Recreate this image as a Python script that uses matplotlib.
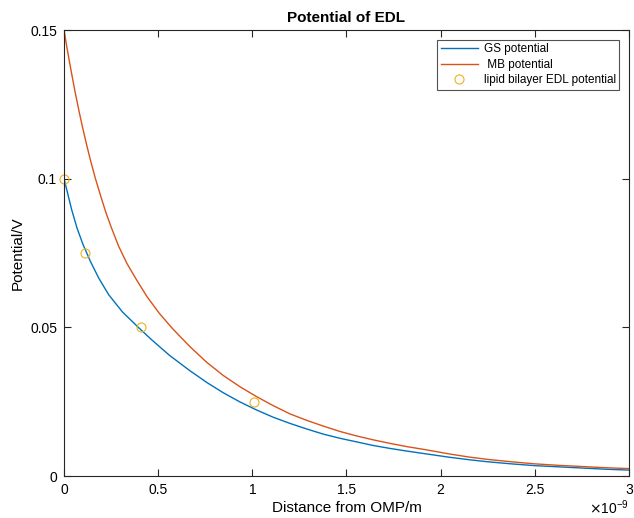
from matplotlib import pyplot as plt
from matplotlib.ticker import FuncFormatter
import numpy as np

# distance in nm (scaled to metres below), potential in V
gs_x = [0, 0.021, 0.04, 0.069, 0.10, 0.14, 0.185, 0.237, 0.31, 0.393, 0.464, 0.56,
        0.669, 0.76, 0.846, 0.935, 1.023, 1.11, 1.2, 1.29, 1.377, 1.465, 1.553, 1.64,
        1.73, 1.82, 1.907, 2.049, 2.15, 2.25, 2.375, 2.5, 2.625, 2.75, 2.875, 3.0]
gs_v = [0.100, 0.0946, 0.0897, 0.0834, 0.0780, 0.0722, 0.0665, 0.0610, 0.0552, 0.0501,
        0.0459, 0.0406, 0.0354, 0.0314, 0.0280, 0.0249, 0.0222, 0.0198, 0.0177, 0.0158,
        0.0141, 0.0127, 0.0115, 0.0103, 0.0093, 0.0084, 0.0076, 0.0063, 0.0055, 0.0048,
        0.0041, 0.0035, 0.0031, 0.0027, 0.0023, 0.0020]

mb_x = [0, 0.013, 0.028, 0.044, 0.060, 0.08, 0.099, 0.12, 0.140, 0.166, 0.193, 0.222,
        0.251, 0.29, 0.334, 0.385, 0.441, 0.505, 0.573, 0.62, 0.669, 0.757, 0.846, 0.935,
        1.023, 1.11, 1.2, 1.29, 1.377, 1.465, 1.553, 1.64, 1.73, 1.82, 1.907, 2.049,
        2.15, 2.25, 2.375, 2.5, 2.625, 2.75, 2.875, 3.0]
mb_v = [0.150, 0.1450, 0.1396, 0.1341, 0.1288, 0.1226, 0.1171, 0.1114, 0.1063, 0.1002,
        0.0945, 0.0887, 0.0836, 0.0773, 0.0715, 0.0660, 0.0603, 0.0548, 0.0498, 0.0467,
        0.0435, 0.0383, 0.0338, 0.0300, 0.0267, 0.0237, 0.0209, 0.0187, 0.0168, 0.0150,
        0.0135, 0.0122, 0.0110, 0.0099, 0.0090, 0.0074, 0.0064, 0.0056, 0.0048, 0.0041,
        0.0036, 0.0032, 0.0028, 0.0025]

lipid_x = [0, 0.11, 0.41, 1.01]
lipid_v = [0.1, 0.075, 0.05, 0.025]

xticks = [0, 0.5, 1, 1.5, 2, 2.5, 3]
yticks = [0, 0.05, 0.1, 0.15]

plt.rcParams['font.family'] = ['Liberation Sans', 'DejaVu Sans']
axcol = '#262626'

fig = plt.figure(figsize=(6.34, 5.18), dpi=100)
ax = fig.add_axes([0.101, 0.081, 0.891, 0.861])

ax.plot(np.array(gs_x) * 1e-9, gs_v, color='#0072BD', lw=1.0, label='GS potential')
ax.plot(np.array(mb_x) * 1e-9, mb_v, color='#D95319', lw=1.0, label=' MB potential')
ax.plot(np.array(lipid_x) * 1e-9, lipid_v, 'o', mfc='none', mec='#EDB120', ms=6.5,
        mew=0.8, label='lipid bilayer EDL potential', clip_on=False)

ax.set_xlim(0, 3e-9)
ax.set_ylim(0, 0.15)
ax.set_xticks(np.array(xticks) * 1e-9)
ax.set_yticks(yticks)
ax.xaxis.set_major_formatter(FuncFormatter(lambda v, p: '%g' % round(v * 1e9, 3)))
ax.yaxis.set_major_formatter(FuncFormatter(lambda v, p: '%g' % round(v, 3)))
ax.tick_params(direction='in', top=True, right=True, length=5, width=0.8,
               colors=axcol, labelsize=10, labelcolor='black', pad=5)
for s in ax.spines.values():
    s.set_color(axcol)
    s.set_linewidth(0.8)

ax.set_xlabel('Distance from OMP/m', fontsize=11, labelpad=3)
ax.set_ylabel('Potential/V', fontsize=11, labelpad=4)
ax.set_title('Potential of EDL', fontsize=11, fontweight='bold', pad=6)
ax.text(1.0, -0.085, r'$\times$10$^{\mathregular{-9}}$', transform=ax.transAxes,
        ha='right', va='baseline', fontsize=10)

leg = ax.legend(loc='upper right', bbox_to_anchor=(0.983, 0.978), fontsize=8.5,
                frameon=True, fancybox=False, edgecolor=axcol, handlelength=3.2,
                borderpad=0.3, labelspacing=0.3, handletextpad=0.45,
                borderaxespad=0)
leg.get_frame().set_linewidth(0.8)

fig.savefig('out.png', dpi=100)
